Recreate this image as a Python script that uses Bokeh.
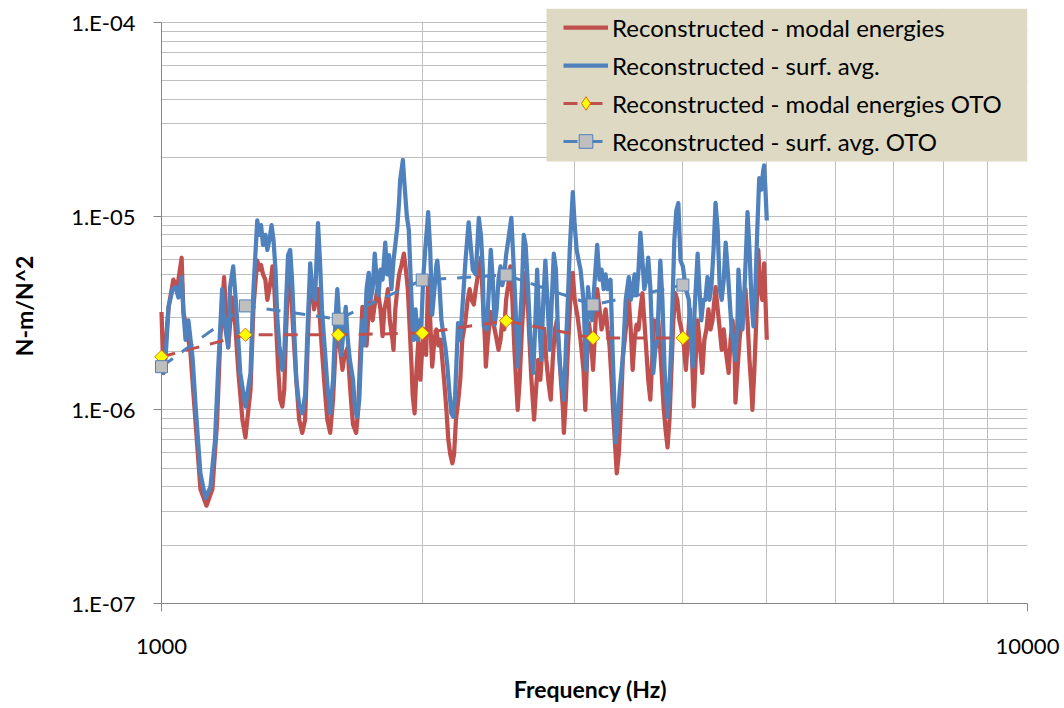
import math

from bokeh.plotting import figure
from bokeh.models import FixedTicker, CustomJSTickFormatter, Legend, LegendItem, BoxAnnotation
from bokeh.embed import file_html
from bokeh.resources import INLINE

# Narrow-band reconstructed response, modal-energy method (Hz, N-m/N^2)
freq_modal = [
    1000, 1005, 1019, 1032, 1043, 1055, 1060, 1071, 1080, 1095, 1109, 1127, 1145, 1159, 1169,
    1181, 1194, 1207, 1217, 1227, 1240, 1250, 1267, 1277, 1290, 1297,
    1303, 1310, 1318, 1325, 1332, 1340, 1343, 1350, 1357, 1364, 1371, 1379, 1386, 1393, 1404,
    1411, 1419, 1431, 1442, 1454, 1465, 1473, 1481, 1489, 1500, 1508, 1516, 1524, 1532, 1544,
    1554, 1566, 1578, 1588, 1600, 1608, 1618, 1627, 1641, 1646, 1655, 1664, 1678, 1687, 1697,
    1706, 1715, 1725, 1735, 1743, 1753, 1763, 1776, 1790, 1800, 1809, 1818, 1826, 1835, 1848,
    1853, 1862, 1872, 1881, 1893, 1905, 1915, 1925, 1935, 1945, 1950, 1960, 1970, 1980, 1990,
    2000, 2011, 2021, 2032, 2043, 2054, 2066, 2077, 2088, 2100, 2110, 2122, 2133, 2144, 2155,
    2167, 2177, 2188, 2200, 2213, 2225, 2244, 2257, 2269, 2281, 2294, 2306, 2325, 2338, 2350,
    2363, 2369, 2381, 2400, 2413, 2425, 2438, 2450, 2463, 2475, 2488, 2500, 2514, 2528, 2542,
    2556, 2578, 2592, 2607, 2620, 2633, 2647, 2660, 2674, 2693, 2707, 2722, 2738, 2752, 2767,
    2782, 2800, 2815, 2830, 2846, 2862, 2877, 2892, 2908, 2915, 2930, 2946, 2969, 2985, 3000,
    3024, 3047, 3071, 3086, 3100, 3116, 3134, 3150, 3168, 3185, 3205, 3222, 3240, 3257, 3274,
    3291, 3309, 3327, 3345, 3355, 3373, 3391, 3410, 3427, 3445, 3464, 3482, 3500, 3518, 3536,
    3555, 3573, 3592, 3610, 3629, 3648, 3668, 3687, 3707, 3727, 3747, 3767, 3800, 3820, 3840,
    3860, 3880, 3900, 3920, 3941, 3963, 3985, 4010, 4032, 4053, 4075, 4096, 4117, 4138, 4160,
    4180, 4212, 4235, 4258, 4281, 4305, 4328, 4363, 4388, 4412, 4435, 4459, 4482, 4518, 4541,
    4565, 4588, 4600, 4625, 4650, 4675, 4700, 4724, 4750, 4775, 4800, 4812, 4837, 4862, 4888,
    4914, 4940, 4965, 4982, 5000,
]
val_modal = [
    3.2e-6, 1.55e-6, 3.4e-6, 4.7e-6, 4.3e-6, 6.1e-6, 3.2e-6, 2.5e-6, 1.97e-6, 8.5e-7, 3.9e-7, 3.2e-7, 3.9e-7, 8.5e-7, 2.3e-6,
    4.85e-6, 2.1e-6, 3.8e-6, 2.7e-6, 1.55e-6, 8.9e-7, 7.2e-7, 1.27e-6, 3.4e-6, 5.9e-6, 5.3e-6,
    5.6e-6, 5.0e-6, 4.7e-6, 3.7e-6, 4.2e-6, 5.0e-6, 5.5e-6, 4.2e-6, 2.6e-6, 1.61e-6, 1.13e-6, 1.04e-6, 1.27e-6, 2.6e-6, 5.9e-6,
    4.2e-6, 2.6e-6, 1.43e-6, 8.9e-7, 7.6e-7, 8.9e-7, 1.81e-6, 3.7e-6, 4.7e-6, 3.3e-6, 3.7e-6, 4.2e-6, 2.9e-6, 2.04e-6, 1.27e-6,
    8.9e-7, 7.6e-7, 1.13e-6, 2.04e-6, 2.7e-6, 2.04e-6, 1.61e-6, 1.92e-6, 2.1e-6, 1.61e-6, 1.13e-6, 8.4e-7, 7.6e-7, 1.0e-6, 2.04e-6,
    3.4e-6, 2.3e-6, 2.15e-6, 3.3e-6, 3.7e-6, 2.9e-6, 3.5e-6, 4.2e-6, 3.3e-6, 2.4e-6, 3.3e-6, 3.7e-6, 4.2e-6, 2.9e-6, 2.3e-6,
    2.04e-6, 3.3e-6, 4.2e-6, 5.0e-6, 5.6e-6, 6.4e-6, 5.3e-6, 4.2e-6, 2.6e-6, 1.61e-6, 1.19e-6, 9.6e-7, 1.61e-6, 2.3e-6, 1.43e-6,
    2.04e-6, 2.6e-6, 1.92e-6, 4.7e-6, 2.9e-6, 1.67e-6, 2.3e-6, 2.6e-6, 2.15e-6, 2.3e-6, 1.81e-6, 1.35e-6, 1.0e-6, 7.0e-7, 5.9e-7,
    5.3e-7, 5.9e-7, 8.9e-7, 1.09e-6, 1.43e-6, 2.3e-6, 2.9e-6, 3.7e-6, 4.2e-6, 3.7e-6, 3.5e-6, 4.2e-6, 5.3e-6, 6.1e-6, 3.7e-6,
    2.3e-6, 1.67e-6, 2.3e-6, 3.2e-6, 2.9e-6, 2.6e-6, 2.3e-6, 2.04e-6, 2.3e-6, 2.9e-6, 2.6e-6, 3.7e-6, 4.4e-6, 5.5e-6, 3.7e-6,
    2.04e-6, 1.0e-6, 1.43e-6, 2.6e-6, 3.7e-6, 5.1e-6, 3.7e-6, 2.3e-6, 1.43e-6, 8.9e-7, 1.27e-6, 1.81e-6, 1.43e-6, 2.04e-6, 2.6e-6,
    1.81e-6, 1.35e-6, 1.13e-6, 1.81e-6, 2.6e-6, 2.9e-6, 2.04e-6, 1.43e-6, 1.0e-6, 7.6e-7, 1.13e-6, 2.04e-6, 4.2e-6, 5.1e-6, 3.7e-6,
    3.0e-6, 2.3e-6, 1.61e-6, 1.0e-6, 1.81e-6, 2.8e-6, 2.3e-6, 1.61e-6, 2.6e-6, 4.2e-6, 3.3e-6, 2.6e-6, 2.9e-6, 3.3e-6, 2.6e-6,
    2.15e-6, 1.43e-6, 8.9e-7, 5.9e-7, 4.7e-7, 5.9e-7, 9.6e-7, 1.87e-6, 2.3e-6, 2.9e-6, 3.8e-6, 2.6e-6, 1.61e-6, 2.3e-6, 2.75e-6,
    2.6e-6, 3.3e-6, 4.0e-6, 2.9e-6, 2.04e-6, 1.43e-6, 1.13e-6, 1.81e-6, 2.9e-6, 2.6e-6, 2.9e-6, 2.04e-6, 1.04e-6, 7.9e-7, 6.4e-7,
    8.9e-7, 1.61e-6, 2.9e-6, 4.0e-6, 3.7e-6, 2.9e-6, 2.6e-6, 2.15e-6, 1.61e-6, 2.3e-6, 3.3e-6, 2.04e-6, 1.04e-6, 1.81e-6, 2.9e-6,
    2.3e-6, 1.55e-6, 2.3e-6, 2.6e-6, 3.3e-6, 2.6e-6, 2.9e-6, 4.3e-6, 3.3e-6, 2.6e-6, 2.04e-6, 2.6e-6, 2.04e-6, 1.55e-6, 2.3e-6,
    2.9e-6, 2.04e-6, 1.09e-6, 1.61e-6, 2.3e-6, 2.9e-6, 3.7e-6, 4.2e-6, 2.9e-6, 1.81e-6, 1.27e-6, 1.0e-6, 1.61e-6, 2.9e-6, 6.7e-6,
    4.2e-6, 3.7e-6, 5.7e-6, 3.7e-6, 2.3e-6,
]

# Narrow-band reconstructed response, surface-averaged method (Hz, N-m/N^2)
freq_surf = [
    1000, 1005, 1011, 1019, 1030, 1038, 1046, 1055, 1060, 1066, 1074, 1086, 1095, 1109, 1124,
    1139, 1153, 1162, 1175, 1184, 1194, 1200, 1210, 1220, 1233, 1250, 1267, 1277, 1290, 1297,
    1303, 1310, 1318, 1325, 1332, 1340, 1347, 1354, 1361, 1368, 1379, 1386, 1393, 1400, 1408,
    1415, 1423, 1431, 1442, 1454, 1465, 1473, 1485, 1493, 1504, 1516, 1524, 1532, 1544, 1554,
    1566, 1578, 1588, 1596, 1604, 1613, 1623, 1632, 1641, 1650, 1664, 1673, 1682, 1692, 1706,
    1715, 1725, 1735, 1743, 1753, 1763, 1772, 1781, 1790, 1800, 1813, 1822, 1831, 1843, 1853,
    1862, 1872, 1881, 1886, 1900, 1905, 1910, 1920, 1930, 1940, 1950, 1955, 1965, 1975, 1985,
    1995, 2005, 2016, 2027, 2032, 2043, 2054, 2066, 2077, 2082, 2094, 2105, 2116, 2127, 2138,
    2149, 2161, 2172, 2183, 2200, 2213, 2225, 2244, 2263, 2275, 2288, 2306, 2325, 2338, 2350,
    2356, 2375, 2388, 2400, 2413, 2425, 2438, 2450, 2463, 2475, 2488, 2500, 2514, 2535, 2549,
    2564, 2578, 2592, 2607, 2620, 2633, 2647, 2667, 2687, 2700, 2715, 2730, 2745, 2760, 2775,
    2790, 2808, 2823, 2838, 2854, 2869, 2885, 2900, 2915, 2930, 2946, 2961, 2969, 2985, 3000,
    3016, 3032, 3047, 3071, 3086, 3094, 3108, 3125, 3142, 3159, 3185, 3205, 3222, 3240, 3257,
    3274, 3300, 3318, 3336, 3345, 3364, 3382, 3410, 3436, 3464, 3482, 3500, 3518, 3536, 3555,
    3573, 3592, 3610, 3629, 3648, 3668, 3687, 3697, 3717, 3737, 3767, 3788, 3810, 3840, 3860,
    3880, 3910, 3931, 3952, 3975, 4000, 4032, 4064, 4085, 4106, 4127, 4160, 4180, 4201, 4224,
    4247, 4270, 4293, 4316, 4340, 4363, 4388, 4412, 4435, 4459, 4482, 4506, 4530, 4553, 4577,
    4600, 4625, 4637, 4662, 4687, 4712, 4737, 4750, 4775, 4800, 4825, 4850, 4875, 4900, 4927,
    4953, 4965, 4982, 5000,
]
val_surf = [
    1.67e-6, 1.55e-6, 1.87e-6, 3.4e-6, 4.2e-6, 4.3e-6, 3.8e-6, 4.85e-6, 3.2e-6, 2.3e-6, 2.9e-6, 1.87e-6, 1.04e-6, 4.7e-7, 3.5e-7,
    4.0e-7, 7.0e-7, 1.55e-6, 4.2e-6, 2.7e-6, 2.1e-6, 4.3e-6, 5.5e-6, 3.4e-6, 1.55e-6, 1.04e-6, 1.55e-6, 4.2e-6, 9.5e-6, 8.0e-6,
    9.0e-6, 7.1e-6, 8.0e-6, 6.7e-6, 7.5e-6, 9.0e-6, 7.5e-6, 5.3e-6, 2.9e-6, 2.15e-6, 1.61e-6, 1.92e-6, 3.7e-6, 6.3e-6, 6.7e-6,
    4.7e-6, 2.6e-6, 1.43e-6, 1.06e-6, 9.6e-7, 1.19e-6, 2.3e-6, 5.7e-6, 4.2e-6, 3.7e-6, 9.2e-6, 5.9e-6, 3.3e-6, 2.04e-6, 1.35e-6,
    9.6e-7, 1.43e-6, 2.9e-6, 4.2e-6, 2.9e-6, 1.92e-6, 2.6e-6, 3.4e-6, 2.3e-6, 1.81e-6, 1.43e-6, 1.0e-6, 9.2e-7, 1.13e-6, 2.9e-6,
    2.15e-6, 4.2e-6, 5.1e-6, 3.7e-6, 4.2e-6, 6.4e-6, 4.7e-6, 3.9e-6, 5.3e-6, 4.7e-6, 7.3e-6, 5.0e-6, 6.3e-6, 4.2e-6, 5.9e-6,
    7.1e-6, 8.8e-6, 1.2e-5, 1.53e-5, 1.95e-5, 1.62e-5, 1.37e-5, 1.0e-5, 8.5e-6, 4.7e-6, 2.6e-6, 2.3e-6, 3.3e-6, 2.3e-6, 2.9e-6,
    2.6e-6, 4.7e-6, 6.7e-6, 9.0e-6, 1.05e-5, 6.7e-6, 3.1e-6, 4.2e-6, 5.6e-6, 5.9e-6, 4.4e-6, 2.9e-6, 2.45e-6, 2.1e-6, 1.7e-6,
    1.27e-6, 9.6e-7, 9.2e-7, 1.19e-6, 2.8e-6, 2.3e-6, 3.3e-6, 5.9e-6, 9.3e-6, 7.1e-6, 5.3e-6, 5.0e-6, 9.8e-6, 8.0e-6, 5.3e-6,
    2.7e-6, 2.6e-6, 4.2e-6, 6.7e-6, 4.7e-6, 2.75e-6, 3.3e-6, 4.7e-6, 5.5e-6, 4.4e-6, 5.0e-6, 6.3e-6, 7.5e-6, 9.8e-6, 5.9e-6,
    3.3e-6, 1.67e-6, 2.6e-6, 4.2e-6, 8.0e-6, 7.1e-6, 4.7e-6, 2.3e-6, 1.55e-6, 2.6e-6, 5.3e-6, 2.9e-6, 1.81e-6, 3.7e-6, 5.9e-6,
    3.7e-6, 2.04e-6, 3.7e-6, 6.4e-6, 5.3e-6, 2.6e-6, 1.7e-6, 1.35e-6, 1.13e-6, 2.04e-6, 3.7e-6, 6.7e-6, 8.5e-6, 1.33e-5, 9.0e-6,
    6.7e-6, 5.9e-6, 5.3e-6, 3.7e-6, 2.04e-6, 1.61e-6, 4.3e-6, 3.3e-6, 2.9e-6, 4.2e-6, 7.1e-6, 4.7e-6, 5.3e-6, 4.2e-6, 5.0e-6,
    4.2e-6, 4.7e-6, 2.04e-6, 1.0e-6, 6.8e-7, 8.9e-7, 1.27e-6, 1.87e-6, 3.7e-6, 4.85e-6, 3.7e-6, 4.2e-6, 5.0e-6, 3.9e-6, 5.3e-6,
    8.2e-6, 5.9e-6, 4.2e-6, 4.7e-6, 6.1e-6, 4.3e-6, 2.3e-6, 1.55e-6, 2.04e-6, 2.3e-6, 5.9e-6, 3.7e-6, 1.61e-6, 9.2e-7, 1.27e-6,
    2.3e-6, 7.5e-6, 1.07e-5, 1.17e-5, 5.9e-6, 5.5e-6, 4.2e-6, 3.7e-6, 2.3e-6, 1.67e-6, 3.3e-6, 6.4e-6, 4.2e-6, 2.9e-6, 3.7e-6,
    3.7e-6, 4.85e-6, 3.7e-6, 4.4e-6, 6.7e-6, 1.17e-5, 8.5e-6, 4.2e-6, 3.7e-6, 4.7e-6, 7.3e-6, 5.3e-6, 3.7e-6, 2.6e-6, 2.15e-6,
    1.81e-6, 2.9e-6, 5.3e-6, 3.7e-6, 2.6e-6, 4.2e-6, 7.5e-6, 1.05e-5, 6.7e-6, 3.7e-6, 2.7e-6, 4.2e-6, 8.5e-6, 1.57e-5, 1.37e-5,
    1.73e-5, 1.83e-5, 1.37e-5, 9.5e-6,
]

# One-third-octave band values
oto_freq = [1000, 1250, 1600, 2000, 2500, 3150, 4000]
oto_modal = [1.88e-6, 2.44e-6, 2.44e-6, 2.49e-6, 2.88e-6, 2.35e-6, 2.35e-6]
oto_surf = [1.67e-6, 3.44e-6, 2.94e-6, 4.68e-6, 4.97e-6, 3.48e-6, 4.41e-6]

x_major = [1000, 10000]
y_major = [1e-7, 1e-6, 1e-5, 1e-4]

RED = "#C0504D"
BLUE = "#4F81BD"
GRID = "#BFBFBF"
AXIS = "#868686"
LEGEND_BG = "#DDD9C3"
FONT = "Lato"

# The frame reaches 8 px left of 1000 Hz and 14 px above 1e-4, so that the
# markers at 1000 Hz and the legend box are not clipped by it.
X_LEFT = 10 ** (3 - 8 / 866)
Y_TOP = 10 ** (-4 + 42 / 581)

p = figure(
    width=1064, height=708,
    x_axis_type="log", y_axis_type="log",
    x_range=(X_LEFT, 10000), y_range=(1e-7, Y_TOP),
    output_backend="svg", toolbar_location=None, title=None,
    min_border_left=153, min_border_right=37, min_border_top=8, min_border_bottom=105,
)
p.outline_line_color = None
p.background_fill_color = "white"
p.border_fill_color = "white"

x_ticker = FixedTicker(ticks=x_major, minor_ticks=[k * 1000 for k in range(2, 10)])
y_ticker = FixedTicker(
    ticks=y_major,
    minor_ticks=[k * d for d in (1e-7, 1e-6, 1e-5) for k in range(2, 10)],
)
p.xaxis.ticker = x_ticker
p.yaxis.ticker = y_ticker
p.xgrid.ticker = x_ticker
p.ygrid.ticker = y_ticker
p.xaxis.bounds = (x_major[0], x_major[-1])
p.yaxis.bounds = (y_major[0], y_major[-1])

for g in (p.xgrid, p.ygrid):
    g.grid_line_color = GRID
    g.grid_line_width = 1
    g.minor_grid_line_color = GRID
    g.minor_grid_line_width = 1

# white strips above 1e-4 and left of 1000 Hz hide the grid stubs there
p.add_layout(BoxAnnotation(bottom=582, bottom_units="screen", fill_color="white", fill_alpha=1.0,
                           line_color=None, level="underlay"))
p.add_layout(BoxAnnotation(right=x_major[0], fill_color="white", fill_alpha=1.0,
                           line_color=None, level="underlay"))

p.yaxis.formatter = CustomJSTickFormatter(code="""
const e = Math.round(Math.log10(tick));
return "1.E" + (e < 0 ? "-" : "+") + String(Math.abs(e)).padStart(2, "0");
""")
p.xaxis.formatter = CustomJSTickFormatter(code="return Math.round(tick).toString();")

for ax in (p.xaxis, p.yaxis):
    ax.axis_line_color = AXIS
    ax.axis_line_width = 1
    ax.major_tick_line_color = AXIS
    ax.minor_tick_out = 0
    ax.minor_tick_in = 0
    ax.major_label_text_font = FONT
    ax.major_label_text_font_size = "22px"
    ax.major_label_text_color = "black"
    ax.axis_label_text_font = FONT
    ax.axis_label_text_font_style = "bold"
    ax.axis_label_text_font_size = "23px"
    ax.axis_label_text_color = "black"

p.xaxis.major_tick_out = 8
p.xaxis.major_tick_in = 0
# the vertical axis sits on the frame edge 8 px left of 1000 Hz: its ticks point
# inwards up to 1000 Hz, where the axis line itself is drawn
p.yaxis.major_tick_out = 0
p.yaxis.major_tick_in = 8
p.yaxis.axis_line_color = None
p.segment(x0=x_major[0], y0=y_major[0], x1=x_major[0], y1=y_major[-1],
          line_color=AXIS, line_width=1)

p.xaxis.major_label_standoff = 27
p.yaxis.major_label_standoff = 18
p.xaxis.axis_label = "Frequency (Hz)"
p.yaxis.axis_label = "N-m/N^2"
p.xaxis.axis_label_standoff = 18
p.yaxis.axis_label_standoff = 30

r_modal = p.line(freq_modal, val_modal, line_color=RED, line_width=4.25, line_join="round")
r_surf = p.line(freq_surf, val_surf, line_color=BLUE, line_width=4.25, line_join="round")

r_oto_m_line = p.line(oto_freq, oto_modal, line_color=RED, line_width=3, line_dash="14 11")
r_oto_m_pts = p.scatter(oto_freq, oto_modal, marker="square", angle=math.pi / 4, size=9.5,
                        fill_color="#FFFF00", line_color="#E46C0A", line_width=1)
r_oto_s_line = p.line(oto_freq, oto_surf, line_color=BLUE, line_width=3, line_dash="14 11")
r_oto_s_pts = p.scatter(oto_freq, oto_surf, marker="square", size=12,
                        fill_color="#BFBFBF", line_color=BLUE, line_width=1)
# diamond-shaped key for the legend entry (legend markers are drawn unrotated)
r_oto_m_key = p.scatter(oto_freq, oto_modal, marker="diamond", size=14,
                        fill_color="#FFFF00", line_color="#E46C0A", line_width=1, visible=False)

# legend panel background
p.add_layout(BoxAnnotation(left=393, left_units="screen", bottom=442, bottom_units="screen",
                           fill_color=LEGEND_BG, fill_alpha=1.0, line_color=None))

legend = Legend(
    items=[
        LegendItem(label="Reconstructed - modal energies", renderers=[r_modal]),
        LegendItem(label="Reconstructed - surf. avg.", renderers=[r_surf]),
        LegendItem(label="Reconstructed - modal energies OTO", renderers=[r_oto_m_line, r_oto_m_key]),
        LegendItem(label="Reconstructed - surf. avg. OTO", renderers=[r_oto_s_line, r_oto_s_pts]),
    ],
    location=(410, 445),
    background_fill_alpha=0.0,
    border_line_color=None,
    label_text_font=FONT, label_text_font_size="24px", label_text_color="black",
    glyph_width=45, glyph_height=34, label_height=34, label_standoff=4,
    spacing=4, padding=0, margin=0,
)
p.add_layout(legend)

open("out.html", "w").write(file_html(p, INLINE))
